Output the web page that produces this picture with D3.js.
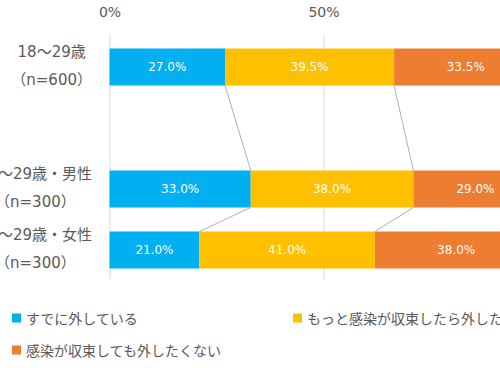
<!DOCTYPE html>
<html>
<head>
<meta charset="utf-8">
<script src="https://cdn.jsdelivr.net/npm/d3@7"></script>
<style>
  body { margin: 0; background: #fff; }
  text { font-family: "DejaVu Sans", "Noto Sans CJK JP", sans-serif; }
</style>
</head>
<body>
<div id="chart"></div>
<script>
// categories (empty one keeps the gap between total and gender rows)
const categories = ['all', 'gap', 'male', 'female'];
const categoryLines = [
    ['18～29歳', '（n=600）'],
    [],
    ['18～29歳・男性', '（n=300）'],
    ['18～29歳・女性', '（n=300）']
];
const seriesNames = ['すでに外している', 'もっと感染が収束したら外したい', '感染が収束しても外したくない'];
const already = [27.0, null, 33.0, 21.0];
const later = [39.5, null, 38.0, 41.0];
const never = [33.5, null, 29.0, 38.0];
const tickValues = [0, 0.5];

const colors = ['#00b0f0', '#ffc000', '#ed7d31'];
const textGray = '#595959';

const w = 500;
const h = 375;

const svg = d3.select('#chart')
    .append('svg')
    .attr('width', w)
    .attr('height', h);

const xScale = d3.scaleLinear()
    .domain([0, 1])
    .range([109.5, 537.5]);

const yScale = d3.scaleBand()
    .domain(categories)
    .range([36.5, 280.5])
    .paddingInner(24 / 61)
    .paddingOuter(12 / 61);

// gridlines + tick labels
const xAxis = d3.axisTop(xScale)
    .tickValues(tickValues)
    .tickFormat(d3.format('.0%'))
    .tickSizeInner(-244)
    .tickSizeOuter(0)
    .tickPadding(18);

const gx = svg.append('g')
    .attr('transform', 'translate(0, 35)')
    .call(xAxis);
gx.select('.domain').remove();
gx.selectAll('.tick line').attr('stroke', '#d9d9d9');
gx.selectAll('.tick text')
    .attr('fill', textGray)
    .style('font-size', '14px');

// stacked rows
const rows = categories.map((c, i) => ({
    cat: c,
    values: [already[i], later[i], never[i]]
})).filter(r => r.values[0] !== null);

rows.forEach(r => {
    let acc = 0;
    r.segs = r.values.map((v, j) => {
        const s = { x0: acc / 100, x1: (acc + v) / 100, v: v, j: j };
        acc += v;
        return s;
    });
});

const rowG = svg.selectAll('g.row')
    .data(rows)
    .enter()
    .append('g')
    .attr('class', 'row');

rowG.selectAll('rect')
    .data(r => r.segs.map(s => Object.assign({ cat: r.cat }, s)))
    .enter()
    .append('rect')
    .attr('x', d => xScale(d.x0))
    .attr('y', d => yScale(d.cat))
    .attr('width', d => xScale(d.x1) - xScale(d.x0))
    .attr('height', yScale.bandwidth())
    .attr('fill', d => colors[d.j]);

rowG.selectAll('text')
    .data(r => r.segs.map(s => Object.assign({ cat: r.cat }, s)))
    .enter()
    .append('text')
    .attr('x', d => (xScale(d.x0) + xScale(d.x1)) / 2)
    .attr('y', d => yScale(d.cat) + yScale.bandwidth() / 2)
    .attr('text-anchor', 'middle')
    .attr('dominant-baseline', 'central')
    .attr('fill', '#fff')
    .style('font-size', '12px')
    .text(d => d.v.toFixed(1) + '%');

// series lines between neighbouring rows
for (let i = 0; i < rows.length - 1; i++) {
    const a = rows[i], b = rows[i + 1];
    [0, 1].forEach(j => {
        svg.append('line')
            .attr('x1', xScale(a.segs[j].x1))
            .attr('y1', yScale(a.cat) + yScale.bandwidth())
            .attr('x2', xScale(b.segs[j].x1))
            .attr('y2', yScale(b.cat))
            .attr('stroke', '#b0b0b0')
            .attr('stroke-width', 1);
    });
}

// category labels: block right aligned, lines centered inside it
const labelRight = 92;
categories.forEach((c, i) => {
    const lines = categoryLines[i];
    if (!lines.length) return;
    const cy = yScale(c) + yScale.bandwidth() / 2;
    const texts = lines.map((t, k) => svg.append('text')
        .attr('y', cy + (k === 0 ? -15 : 13))
        .attr('text-anchor', 'middle')
        .attr('dominant-baseline', 'central')
        .attr('fill', textGray)
        .style('font-size', '15px')
        .text(t));
    const blockW = d3.max(texts, t => t.node().getComputedTextLength());
    texts.forEach(t => t.attr('x', labelRight - blockW / 2));
});

// legend
const legendPos = [[12, 318], [293, 318], [12, 350]];
seriesNames.forEach((name, j) => {
    const [lx, ly] = legendPos[j];
    svg.append('rect')
        .attr('x', lx)
        .attr('y', ly - 4.5)
        .attr('width', 9)
        .attr('height', 9)
        .attr('fill', colors[j]);
    svg.append('text')
        .attr('x', lx + 14)
        .attr('y', ly)
        .attr('dominant-baseline', 'central')
        .attr('fill', textGray)
        .style('font-size', '14px')
        .style('font-family', '"Noto Sans CJK JP", sans-serif')
        .text(name);
});
</script>
</body>
</html>
